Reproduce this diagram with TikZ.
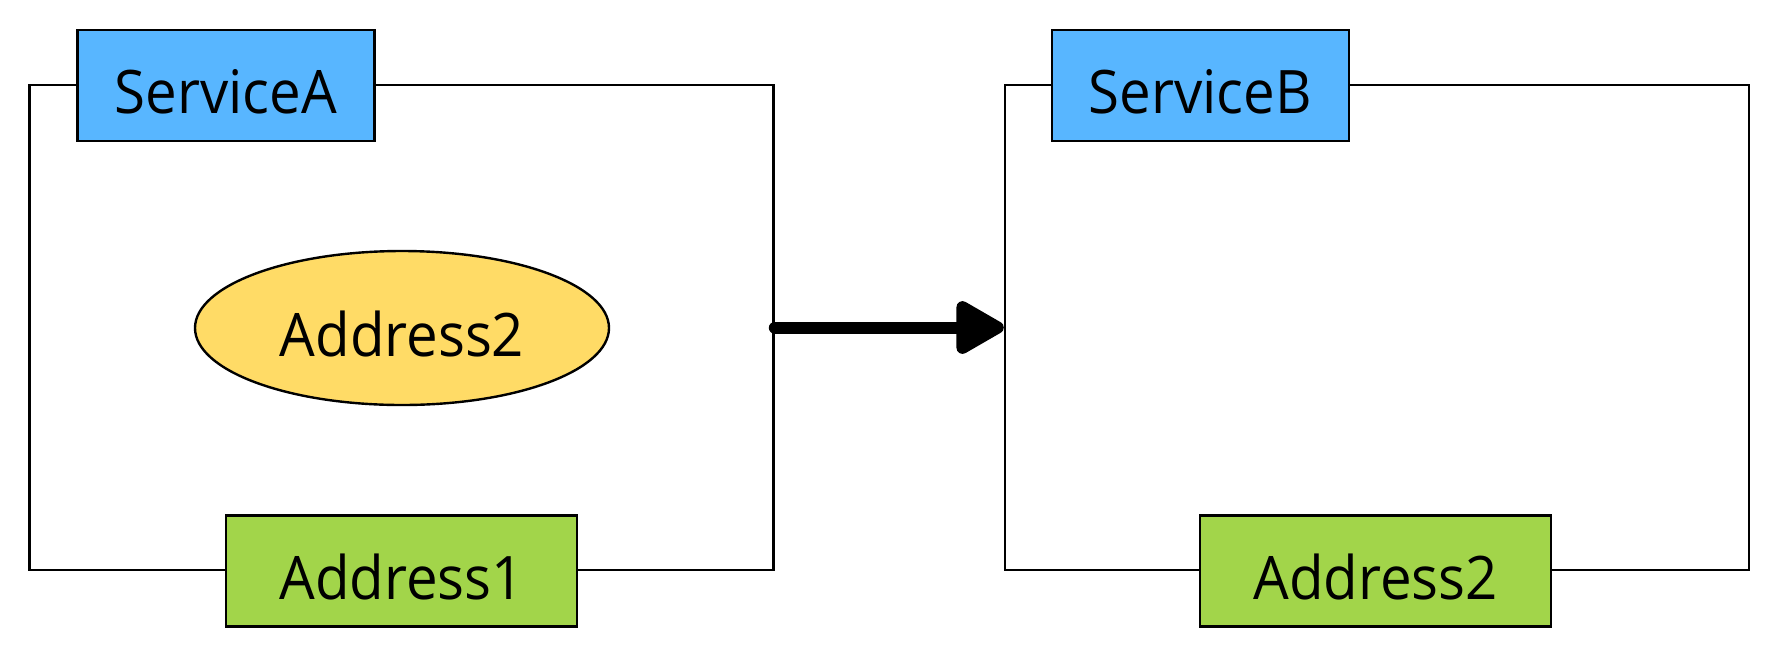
\documentclass[tikz,border=0pt]{standalone}
\usepackage{fontspec}
\setmainfont{Open Sans}
\newfontfamily\labelfont[FakeStretch=0.94]{Open Sans}
\usetikzlibrary{arrows.meta,shapes.geometric}
\definecolor{svcblue}{HTML}{58B6FF}
\definecolor{addrgreen}{HTML}{A2D54A}
\definecolor{addryellow}{HTML}{FFDB66}
\tikzset{
  lbl/.style={font=\labelfont\fontsize{60}{64}\selectfont, text height=62pt, text depth=6pt},
  frame/.style={draw=black, line width=2.4pt, fill=none, rectangle, minimum width=744pt, minimum height=485pt, inner sep=0pt},
  svcbox/.style={lbl, draw=black, line width=2.4pt, fill=svcblue, rectangle, minimum width=297pt, minimum height=111pt, inner sep=0pt},
  addrbox/.style={lbl, draw=black, line width=2.4pt, fill=addrgreen, rectangle, minimum width=351pt, minimum height=111pt, inner sep=0pt},
  addrell/.style={lbl, draw=black, line width=2.4pt, fill=addryellow, ellipse, minimum width=414pt, minimum height=154pt, inner sep=0pt},
  flow/.style={line width=12pt, line cap=round, -{Triangle[length=54pt, width=58pt, round]}}
}
\begin{document}
\begin{tikzpicture}[x=1pt, y=-1pt]
\useasboundingbox (0,0) rectangle (1779,657);
\node[frame] (boxA) at (401.6,327.5) {};
\node[frame] (boxB) at (1377,327.5) {};
\node[svcbox] (svcA) at (225.8,85.2) {ServiceA};
\node[svcbox] (svcB) at (1200.3,85.2) {ServiceB};
\node[addrbox] (addr1) at (401.6,571) {Address1};
\node[addrbox] (addr2b) at (1375.5,571) {Address2};
\node[addrell] (addr2a) at (402,328) {Address2};
\draw[flow] (boxA.east) -- (boxB.west);
\end{tikzpicture}
\end{document}
